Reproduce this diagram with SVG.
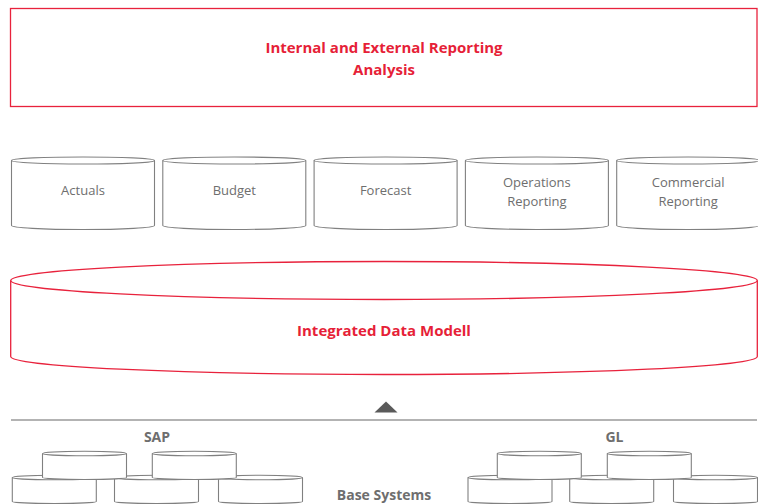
<svg xmlns="http://www.w3.org/2000/svg" width="758" height="504" viewBox="0 0 758 504">
<style>
.red{fill:none;stroke:#e8223c;stroke-width:1.3}
.cyl{fill:#fff;stroke:#808080;stroke-width:1.1}
.rt{font-family:"Open Sans","Liberation Sans",sans-serif;font-weight:700;font-size:15px;fill:#e61f38;text-anchor:middle}
.gt{font-family:"Open Sans","Liberation Sans",sans-serif;font-size:13px;fill:#6e6e6e;text-anchor:middle}
.gb{font-family:"Open Sans","Liberation Sans",sans-serif;font-weight:700;font-size:14px;fill:#6e6e6e;text-anchor:middle}
</style>
<defs>
<g id="c1">
<path class="cyl" d="M0,0 L0,65 A71.5,4 0 0 0 143,65 L143,0"/>
<ellipse class="cyl" cx="71.5" cy="0" rx="71.5" ry="3.5"/>
</g>
<g id="c2">
<path class="cyl" d="M0,0 L0,24 A42,2 0 0 0 84,24 L84,0"/>
<ellipse class="cyl" cx="42" cy="0" rx="42" ry="2.3"/>
</g>
</defs>
<g id="reporting">
<rect class="red" x="10.5" y="8.5" width="746.5" height="98"/>
<text class="rt" x="384" y="53">Internal and External Reporting</text>
<text class="rt" x="384" y="75">Analysis</text>
</g>
<g id="actuals"><use href="#c1" x="11.5" y="160.5"/><text class="gt" x="83" y="195">Actuals</text></g>
<g id="budget"><use href="#c1" x="162.8" y="160.5"/><text class="gt" x="234.3" y="195">Budget</text></g>
<g id="forecast"><use href="#c1" x="314.1" y="160.5"/><text class="gt" x="385.6" y="195">Forecast</text></g>
<g id="operations"><use href="#c1" x="465.4" y="160.5"/><text class="gt" x="536.9" y="187">Operations</text><text class="gt" x="536.9" y="206">Reporting</text></g>
<g id="commercial"><use href="#c1" x="616.7" y="160.5"/><text class="gt" x="688.2" y="187">Commercial</text><text class="gt" x="688.2" y="206">Reporting</text></g>
<g id="datamodel">
<path class="red" d="M10.7,280.5 L10.7,356.5 A373.3,18 0 0 0 757.3,356.5 L757.3,280.5"/>
<ellipse class="red" cx="384" cy="280.5" rx="373.3" ry="19"/>
<text class="rt" x="384" y="336">Integrated Data Modell</text>
</g>
<g id="connectors">
<polygon points="374.5,412.5 386,401.5 397.5,412.5" fill="#5a5a5a"/>
<line x1="11" y1="420" x2="757" y2="420" stroke="#9a9a9a" stroke-width="1.4"/>
</g>
<g id="sap">
<text class="gb" x="157" y="442">SAP</text>
<use href="#c2" x="12.3" y="477.5"/>
<use href="#c2" x="114.5" y="477.5"/>
<use href="#c2" x="218.5" y="477.5"/>
<use href="#c2" x="42.5" y="453.5"/>
<use href="#c2" x="152.3" y="453.5"/>
</g>
<g id="gl">
<text class="gb" x="614.5" y="442">GL</text>
<use href="#c2" x="468" y="477.5"/>
<use href="#c2" x="569.7" y="477.5"/>
<use href="#c2" x="673.5" y="477.5"/>
<use href="#c2" x="497.3" y="453.5"/>
<use href="#c2" x="607.3" y="453.5"/>
</g>
<g id="base">
<text class="gb" x="384" y="500">Base Systems</text>
</g>
</svg>
